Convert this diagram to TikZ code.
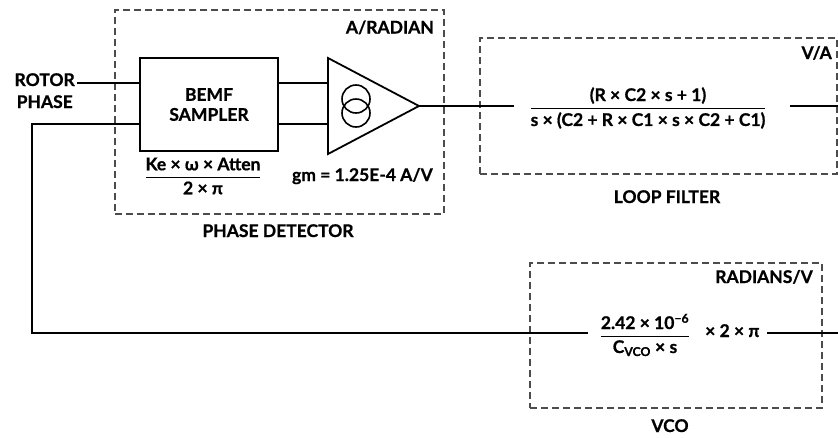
\documentclass[tikz,border=0pt]{standalone}
\usepackage{fontspec}
\usepackage{amsmath}
\setmainfont{Lato}[BoldFeatures={FakeBold=0.8}]
\newcommand{\myfr}[2]{\genfrac{}{}{1.1pt}{0}{\text{#1}}{\text{#2}}}
\begin{document}
\begin{tikzpicture}[x=1pt,y=-1pt,
  wire/.style={line width=1.2pt},
  dbox/.style={draw=black!70, line width=1.1pt, dash pattern=on 7pt off 4pt, inner sep=0pt},
  lbl/.style={font=\bfseries\fontsize{17.5}{20}\selectfont, inner sep=0pt},
  blk/.style={draw, line width=2.2pt, inner sep=0pt, align=center, font=\bfseries\fontsize{17.5}{20}\selectfont},
  csrc/.style={draw, circle, line width=1.6pt, minimum size=28pt, inner sep=0pt},
]
\useasboundingbox (0,0) rectangle (838,437);
% dashed boxes
\node[dbox, minimum width=329pt, minimum height=204pt] (pd) at (279.5,112) {};
\node[dbox, minimum width=357pt, minimum height=136pt] (lf) at (658.5,106) {};
\node[dbox, minimum width=292pt, minimum height=145pt] (vco) at (676,335.5) {};
% BEMF sampler
\node[blk, minimum width=138pt, minimum height=93pt] (bemf) at (209,104.5) {BEMF\\SAMPLER};
% amplifier
\coordinate (ta) at (328,58);
\coordinate (tb) at (328,154);
\coordinate (tt) at (419,106);
\draw[line width=1.8pt, line join=miter] (ta) -- (tt) -- (tb) -- cycle;
\node[csrc] (c1) at (356,99) {};
\node[csrc] (c2) at (356,113) {};
% labels
\node[lbl, anchor=base east] (rotor) at (75,86) {ROTOR};
\node[lbl, anchor=base east] (phase) at (73,108) {PHASE};
\node[lbl, anchor=base east] (arad) at (434,33.5) {A/RADIAN};
\node[lbl, anchor=base east] (gm) at (433,181) {gm = 1.25E-4 A/V};
\node[lbl, anchor=base] (pdl) at (278,237) {PHASE DETECTOR};
\node[lbl, anchor=base] (lfl) at (667,203) {LOOP FILTER};
\node[lbl, anchor=base east] (va) at (832,59) {V/A};
\node[lbl, anchor=base east] (radv) at (813,283) {RADIANS/V};
\node[lbl, anchor=base] (vcol) at (670,432) {VCO};
\node[lbl] (kef) at (203,176) {$\myfr{Ke × ω × Atten}{2 × π}$};
\node[lbl] (lff) at (648,108) {$\myfr{(R × C2 × s + 1)}{s × (C2 + R × C1 × s × C2 + C1)}$};
\node[lbl] (vf) at (645,335) {$\myfr{2.42 × 10\textsuperscript{−6}}{C\textsubscript{VCO} × s}$};
\node[lbl, anchor=base west] (v2pi) at (705,337) {× 2 × π};
% wire endpoints
\coordinate (rin) at (77,83);
\coordinate (b1) at (140,83);
\coordinate (b2) at (140,124);
\coordinate (b3) at (278,83);
\coordinate (b4) at (278,124);
\coordinate (t1) at (328,83);
\coordinate (t2) at (328,124);
\coordinate (fbl) at (32,124);
\coordinate (fbc) at (32,333);
\coordinate (vin) at (588,333);
\coordinate (lfin) at (514,106);
\coordinate (lfout) at (790,106);
\coordinate (edge1) at (838,106);
\coordinate (vout) at (767,333);
\coordinate (edge2) at (838,333);
% wires
\draw[wire] (rin) -- (b1);
\draw[wire] (b3) -- (t1);
\draw[wire] (b4) -- (t2);
\draw[wire] (tt) -- (lfin);
\draw[wire] (lfout) -- (edge1);
\draw[wire] (b2) -- (fbl) -- (fbc) -- (vin);
\draw[wire] (vout) -- (edge2);
\end{tikzpicture}
\end{document}
